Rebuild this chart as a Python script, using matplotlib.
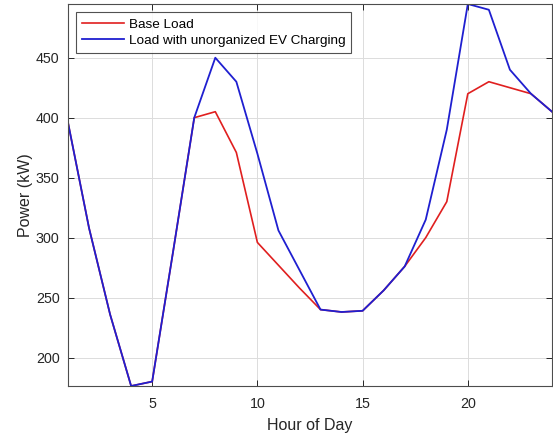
import numpy as np
import matplotlib
matplotlib.use("Agg")
import matplotlib.pyplot as plt

# hourly load profile (kW)
hours = np.arange(1, 25)
base_load = [396, 308, 236, 176.3, 180, 289, 400, 405, 371, 296, 277, 258,
             240, 238, 239, 256, 276, 300, 330, 420, 430, 425, 420, 405]
ev_load = [396, 308, 236, 176.3, 180, 289, 400, 450, 430, 370, 306, 273,
           240, 238, 239, 256, 276, 315, 390, 494.8, 490, 440, 420, 405]

x_ticks = [5, 10, 15, 20]
y_ticks = [200, 250, 300, 350, 400, 450]

plt.rcParams['font.family'] = ['Liberation Sans', 'DejaVu Sans']

fig = plt.figure(figsize=(5.53, 4.36), dpi=100)
ax = fig.add_axes([68 / 553, 50 / 436, 484 / 553, 382 / 436])

ax.plot(hours, base_load, color='#e01f1f', lw=1.2, label='Base Load')
ax.plot(hours, ev_load, color='#1f1fd0', lw=1.3, label='Load with unorganized EV Charging')

ax.set_xlim(1, 24)
ax.set_ylim(min(ev_load), max(ev_load))
ax.set_xticks(x_ticks)
ax.set_yticks(y_ticks)

ax.grid(True, color='#dcdcdc', lw=0.7)
ax.set_axisbelow(True)
ax.tick_params(direction='in', top=True, right=True, length=4,
               width=0.7, colors='#262626', labelsize=10.3, pad=6)
ax.tick_params(axis='x', pad=8)
for s in ax.spines.values():
    s.set_color('#4d4d4d')
    s.set_linewidth(0.8)

ax.set_xlabel('Hour of Day', fontsize=11.5, color='#262626', labelpad=5)
ax.set_ylabel('Power (kW)', fontsize=11.5, color='#262626', labelpad=2)

leg = ax.legend(loc='upper left', fontsize=9.7, frameon=True, fancybox=False,
                edgecolor='#262626', handlelength=3.1, borderpad=0.45,
                labelspacing=0.3, handletextpad=0.35, borderaxespad=0,
                bbox_to_anchor=(0.0165, 0.979))
leg.get_frame().set_linewidth(0.8)

fig.savefig('out.png', dpi=100)
